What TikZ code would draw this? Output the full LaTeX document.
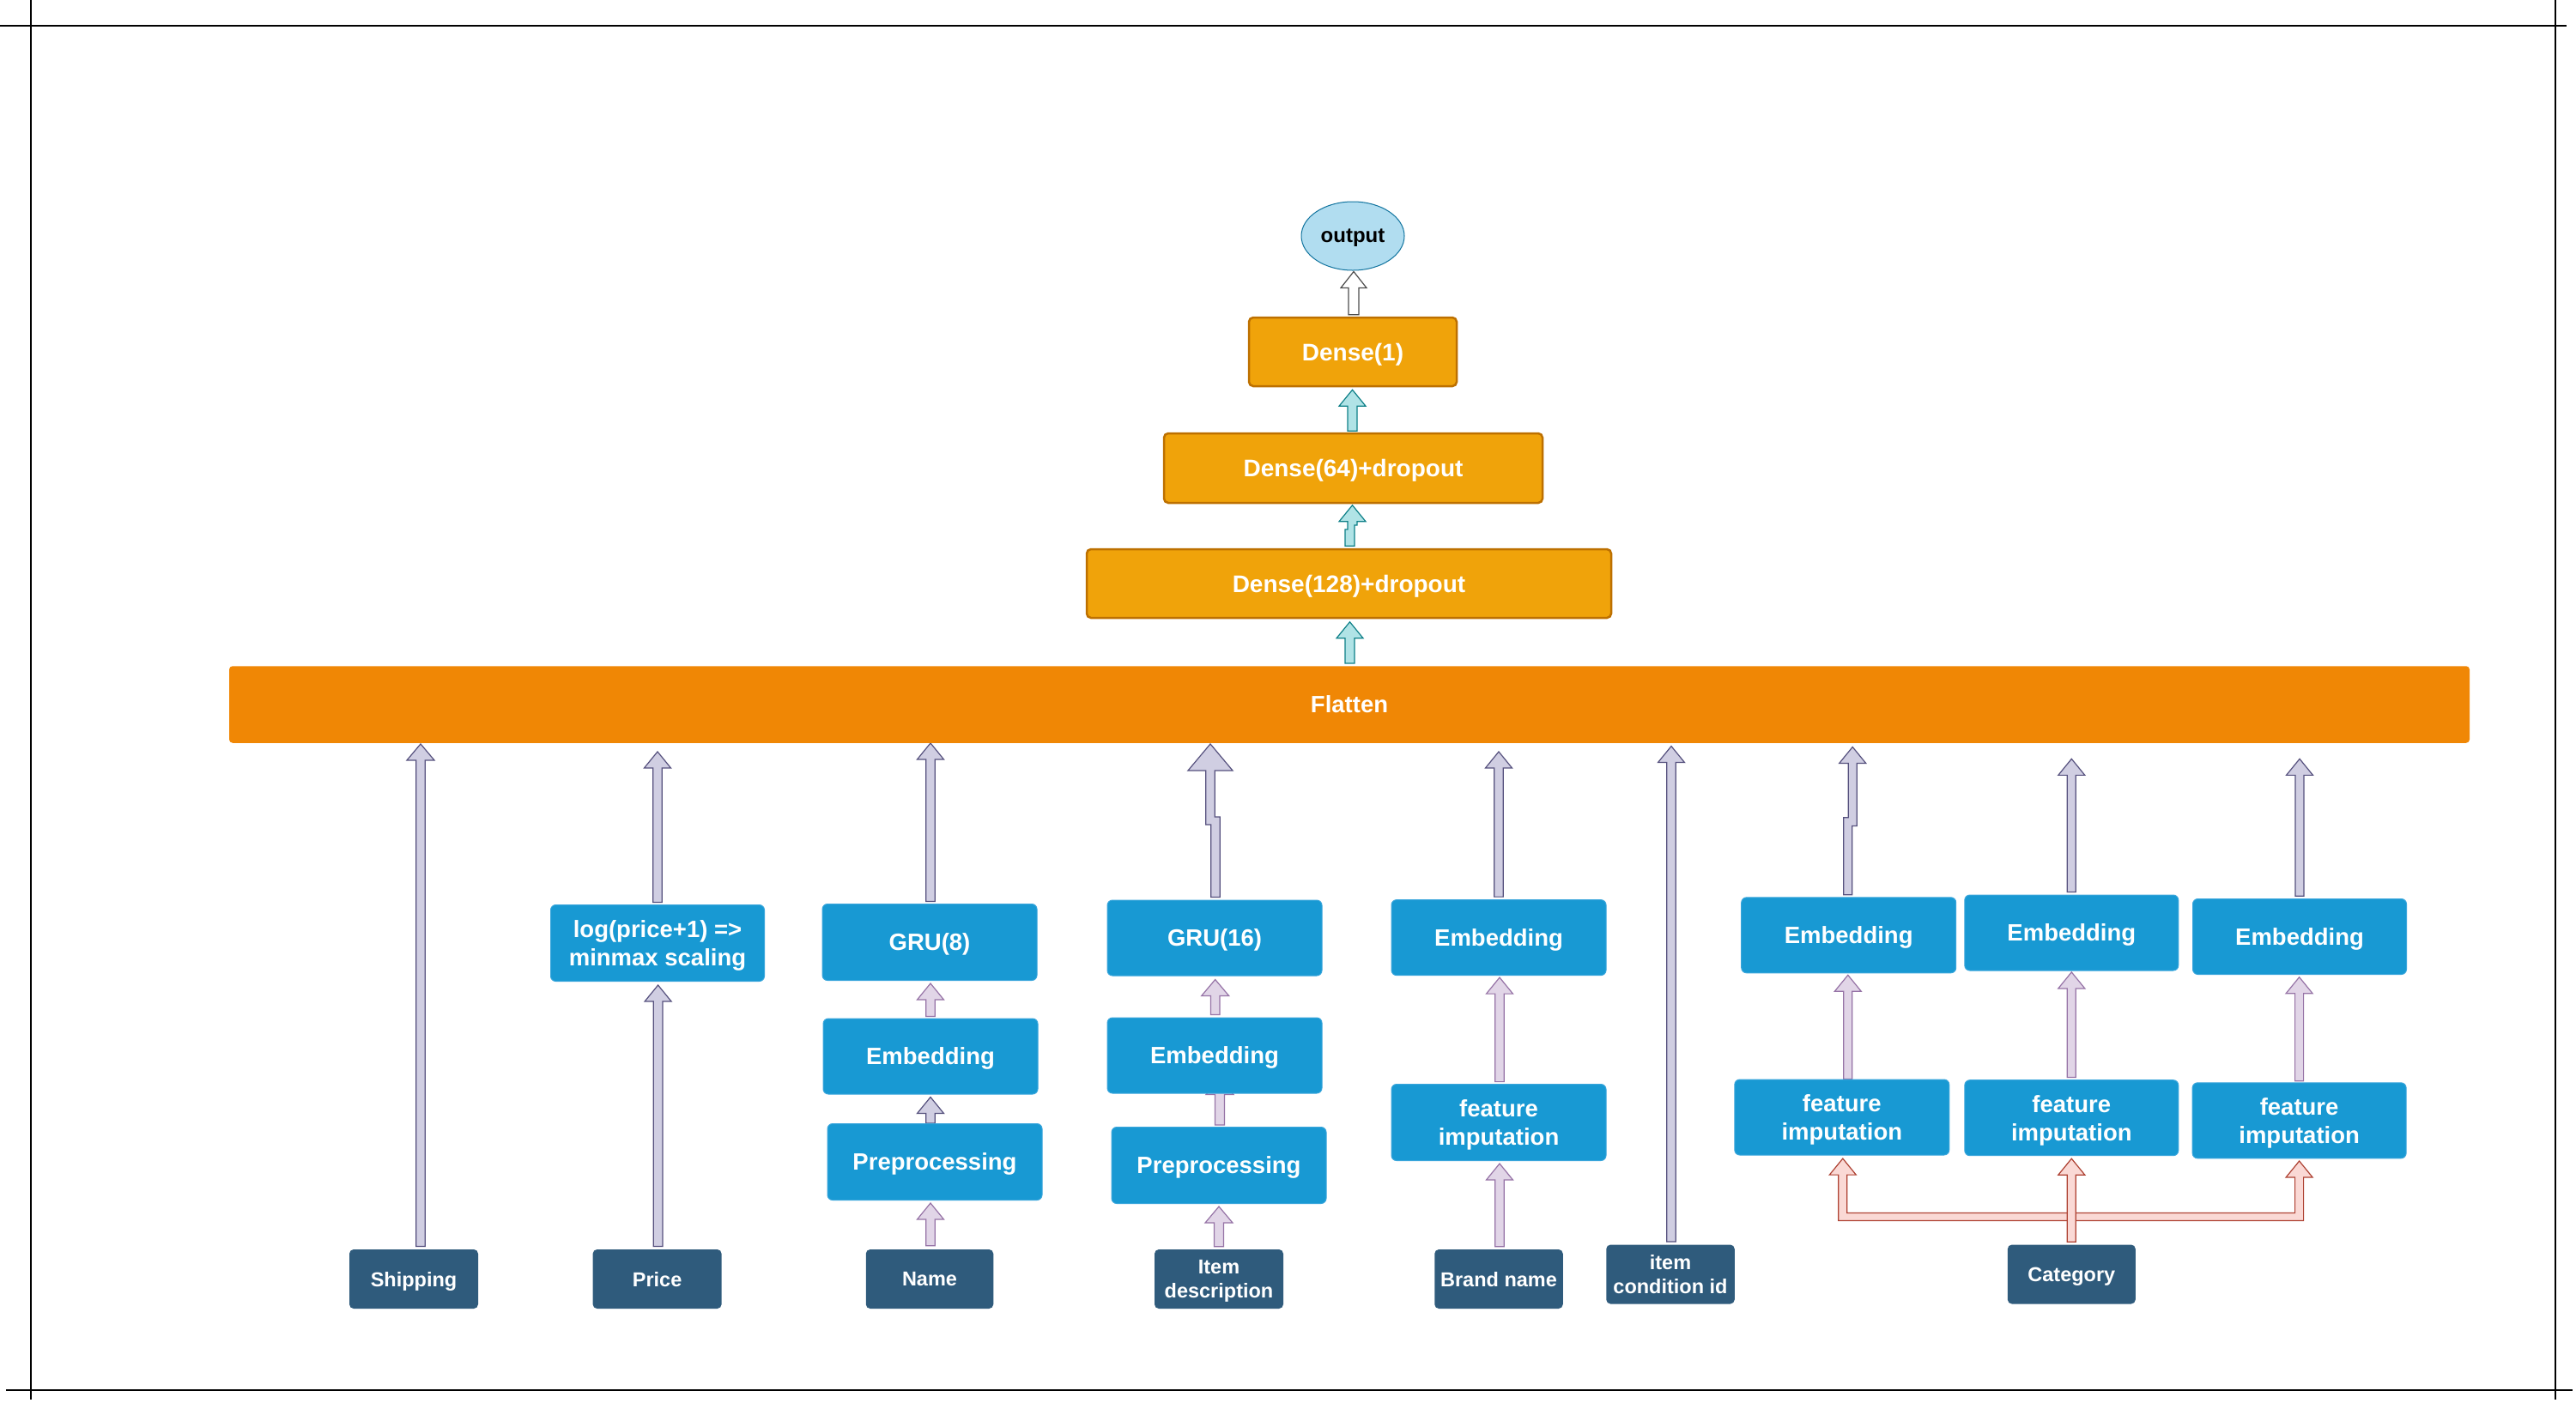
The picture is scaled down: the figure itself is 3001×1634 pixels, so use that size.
\documentclass[tikz,border=0pt]{standalone}
\usepackage{fontspec}
\setmainfont{Liberation Sans}
\usetikzlibrary{shapes.geometric,calc,backgrounds}

\definecolor{orng}{HTML}{F0A30A}
\definecolor{orngd}{HTML}{BD7000}
\definecolor{flatc}{HTML}{F08705}
\definecolor{bluebox}{HTML}{1899D3}
\definecolor{bluelt}{HTML}{3AA6DC}
\definecolor{darkbox}{HTML}{2F5B7C}
\definecolor{lavf}{HTML}{D0CEE2}
\definecolor{lavd}{HTML}{56517E}
\definecolor{pinkf}{HTML}{E1D5E7}
\definecolor{pinkd}{HTML}{9673A6}
\definecolor{tealf}{HTML}{B0E3E6}
\definecolor{teald}{HTML}{0E8088}
\definecolor{redf}{HTML}{FAD9D5}
\definecolor{redd}{HTML}{AE4132}
\definecolor{outf}{HTML}{B1DDF0}
\definecolor{outd}{HTML}{10739E}
\definecolor{grayd}{HTML}{4D4D4D}

% straight block arrow: shaft x and bottom from #2, tip y from #3
\newcommand\blkarrow[6]{%
\draw[#1] let \p1=#2, \p2=#3 in
(\x1-#4pt,\y1) -- (\x1-#4pt,\y2-#6pt) -- (\x1-#5pt,\y2-#6pt) -- (\x1,\y2) -- (\x1+#5pt,\y2-#6pt) -- (\x1+#4pt,\y2-#6pt) -- (\x1+#4pt,\y1) -- cycle;}

% block arrow with a small jog: #4 = x offset of upper shaft, #5 right-edge jog y, #6 left-edge jog y
\newcommand\jogarrow[9]{%
\draw[#1] let \p1=#2, \p2=#3, \p3=(0,#5), \p4=(0,#6) in
(\x1-#7pt,\y1) -- (\x1-#7pt,\y4) -- (\x1+#4pt-#7pt,\y4) -- (\x1+#4pt-#7pt,\y2-#9pt) -- (\x1+#4pt-#8pt,\y2-#9pt) -- (\x1+#4pt,\y2) -- (\x1+#4pt+#8pt,\y2-#9pt) -- (\x1+#4pt+#7pt,\y2-#9pt) -- (\x1+#4pt+#7pt,\y3) -- (\x1+#7pt,\y3) -- (\x1+#7pt,\y1) -- cycle;}

\tikzset{
  dbox/.style={rectangle, rounded corners=5pt, fill=darkbox, text=white,
    font=\bfseries\fontsize{23.5}{27.7}\selectfont, align=center, inner sep=0pt, text depth=0pt,
    minimum width=150pt, minimum height=69pt},
  bbox/.style={rectangle, rounded corners=6pt, fill=bluebox, draw=bluelt, line width=1pt,
    text=white, font=\bfseries\fontsize{27.5}{33}\selectfont, align=center, inner sep=0pt, text depth=0pt,
    minimum width=250pt, minimum height=88pt},
  obox/.style={rectangle, rounded corners=5pt, fill=orng, draw=orngd, line width=2.5pt,
    text=white, font=\bfseries\fontsize{28}{32}\selectfont, inner sep=0pt, text depth=0pt, minimum height=80pt},
  arlav/.style={fill=lavf, draw=lavd, line width=1.2pt},
  arpink/.style={fill=pinkf, draw=pinkd, line width=1.2pt},
  arteal/.style={fill=tealf, draw=teald, line width=1.2pt},
  arred/.style={fill=redf, draw=redd, line width=1.2pt},
  arwhite/.style={fill=white, draw=grayd, line width=1.2pt},
  cropline/.style={draw=black, line width=2pt}
}

\begin{document}
\begin{tikzpicture}[x=1pt,y=-1pt]
\useasboundingbox (0,0) rectangle (3001,1634);

% crop / frame lines
\draw[cropline] (0,30) -- (2990,30);
\draw[cropline] (7,1620) -- (2997,1620);
\draw[cropline] (36,0) -- (36,1631);
\draw[cropline] (2976.5,0) -- (2976.5,1631);

% top part
\node[ellipse, fill=outf, draw=outd, line width=1pt, minimum width=120pt, minimum height=80pt,
      inner sep=0pt, text depth=0pt, font=\bfseries\fontsize{24}{28}\selectfont] (out) at (1576,275) {output};
\node[obox, minimum width=242pt] (d1) at (1576,410) {Dense(1)};
\node[obox, minimum width=441pt, minimum height=81pt] (d64) at (1576.5,545.5) {Dense(64)+dropout};
\node[obox, minimum width=611pt] (d128) at (1571.5,680) {Dense(128)+dropout};
\node[rectangle, rounded corners=4pt, fill=flatc, minimum width=2610pt, minimum height=89.5pt,
      inner sep=0pt, text=white, font=\bfseries\fontsize{27.5}{32}\selectfont] (flat) at (1572,821) {Flatten};

% input boxes
\node[dbox] (ship) at (482,1490.5) {Shipping};
\node[dbox] (price) at (765.6,1490.5) {Price};
\node[dbox, minimum width=148.5pt] (name) at (1083,1490.5) {Name};
\node[dbox] (item) at (1420,1490.5) {Item\\description};
\node[dbox, minimum width=149.5pt] (brand) at (1746,1490.5) {Brand name};
\node[dbox, minimum width=149.5pt] (cond) at (1946,1485) {item\\condition id};
\node[dbox, minimum width=149pt] (cat) at (2413.3,1485) {Category};

% processing boxes
\node[bbox, minimum width=249pt, minimum height=89pt] (log) at (766,1099) {log(price+1) =>\\minmax scaling};
\node[bbox, minimum height=89pt] (gru8) at (1083,1098) {GRU(8)};
\node[bbox] (emb8) at (1084,1231) {Embedding};
\node[bbox, minimum height=89pt] (pre8) at (1089,1354) {Preprocessing};
\node[bbox] (gru16) at (1415,1093) {GRU(16)};
\node[bbox] (emb16) at (1415,1230) {Embedding};
\node[bbox, minimum height=89pt] (pre16) at (1420,1358) {Preprocessing};
\node[bbox] (embBr) at (1746,1092.6) {Embedding};
\node[bbox, minimum height=89pt] (fiBr) at (1746,1308) {feature\\imputation};
\node[bbox] (embA) at (2153.7,1089.8) {Embedding};
\node[bbox, minimum width=249pt] (embB) at (2413.3,1087) {Embedding};
\node[bbox, minimum width=249pt] (embC) at (2679,1091.5) {Embedding};
\node[bbox] (fiA) at (2145.8,1302) {feature\\imputation};
\node[bbox, minimum width=249pt] (fiB) at (2413.3,1302.7) {feature\\imputation};
\node[bbox, minimum width=249pt] (fiC) at (2678.6,1305.8) {feature\\imputation};

\begin{scope}[on background layer]
\fill[white] (0,0) rectangle (3001,1634);

% top chain
\blkarrow{arteal}{([xshift=0.5pt,yshift=3pt]flat.north)}{([yshift=-3.5pt]d128.south)}{5.5}{15.5}{19}
\jogarrow{arteal}{([xshift=1pt,yshift=2.5pt]d128.north)}{([yshift=-1.5pt]d64.south)}{3}{612}{617}{5.5}{15.5}{19}
\blkarrow{arteal}{([xshift=-1pt,yshift=1.5pt]d64.north)}{([yshift=-3pt]d1.south)}{5.5}{15.5}{19}
\blkarrow{arwhite}{([xshift=1pt,yshift=2pt]d1.north)}{([yshift=-1pt]out.south)}{6}{15}{19}

% shipping
\blkarrow{arlav}{([xshift=8pt,yshift=3.3pt]ship.north)}{([yshift=-1pt]flat.south)}{5.3}{16}{19}
% price
\blkarrow{arlav}{([xshift=1pt,yshift=3.3pt]price.north)}{([yshift=-4pt]log.south)}{5.3}{15.5}{19}
\blkarrow{arlav}{([yshift=2.5pt]log.north)}{([yshift=-10pt]flat.south)}{5.3}{15.5}{19}
% name
\blkarrow{arpink}{([xshift=1pt,yshift=4pt]name.north)}{([yshift=-3pt]pre8.south)}{5.3}{15.5}{19}
\blkarrow{arlav}{([xshift=-5pt]pre8.north)}{([yshift=-3pt]emb8.south)}{5.3}{15.5}{19}
\blkarrow{arpink}{([yshift=2pt]emb8.north)}{([yshift=-3pt]gru8.south)}{5.3}{15.5}{19}
\blkarrow{arlav}{([xshift=1pt,yshift=2.6pt]gru8.north)}{(flat.south)}{5.3}{15.5}{19}
% item description
\blkarrow{arpink}{([yshift=3pt]item.north)}{([yshift=-3pt]pre16.south)}{5.5}{16}{19}
\blkarrow{arpink}{([xshift=1pt,yshift=2pt]pre16.north)}{([yshift=18pt]emb16.south)}{5.5}{16}{19}
\blkarrow{arpink}{([xshift=0.7pt,yshift=3pt]emb16.north)}{([yshift=-4pt]gru16.south)}{5.3}{16}{19}
\jogarrow{arlav}{([xshift=1pt,yshift=3pt]gru16.north)}{([yshift=-1pt]flat.south)}{-6}{952}{961}{5.2}{26}{31}
% brand name
\blkarrow{arpink}{([xshift=1pt,yshift=3pt]brand.north)}{([yshift=-3pt]fiBr.south)}{5.3}{15.5}{19}
\blkarrow{arpink}{([xshift=1pt,yshift=2.4pt]fiBr.north)}{([yshift=-2pt]embBr.south)}{5.3}{15.5}{19}
\blkarrow{arlav}{([yshift=3pt]embBr.north)}{([yshift=-10pt]flat.south)}{5.3}{15.5}{19}
% item condition id
\blkarrow{arlav}{([xshift=1pt,yshift=3.4pt]cond.north)}{([yshift=-3.6pt]flat.south)}{5.3}{15.5}{19}
% category branches
\jogarrow{arlav}{([xshift=-1pt,yshift=2.6pt]embA.north)}{([yshift=-4.5pt]flat.south)}{5.5}{962.5}{952.7}{5}{15.5}{19}
\blkarrow{arpink}{([xshift=7pt]fiA.north)}{([yshift=-2pt]embA.south)}{5}{15.5}{19}
\blkarrow{arlav}{([yshift=3pt]embB.north)}{([yshift=-18.4pt]flat.south)}{5}{15.5}{19}
\blkarrow{arpink}{([yshift=2.7pt]fiB.north)}{([yshift=-1.4pt]embB.south)}{5}{15.5}{19}
\blkarrow{arlav}{([yshift=2.7pt]embC.north)}{([yshift=-18.4pt]flat.south)}{5}{15.5}{19}
\blkarrow{arpink}{([yshift=1.6pt]fiC.north)}{([yshift=-2.7pt]embC.south)}{5}{15.5}{19}

% category fan-out
\draw[arred] let \p1=([xshift=1pt,yshift=-3.6pt]fiA.south), \p2=([yshift=-2.7pt]fiC.south), \p3=(0,1418) in
  (\x1-5pt,\y3-4.5pt) -- (\x1-5pt,\y1-19pt) -- (\x1-15.5pt,\y1-19pt) -- (\x1,\y1) -- (\x1+15.5pt,\y1-19pt)
  -- (\x1+5pt,\y1-19pt) -- (\x1+5pt,\y3+4.5pt) -- (\x2-5pt,\y3+4.5pt) -- (\x2-5pt,\y2-19pt)
  -- (\x2-15.5pt,\y2-19pt) -- (\x2,\y2) -- (\x2+15.5pt,\y2-19pt) -- (\x2+5pt,\y2-19pt)
  -- (\x2+5pt,\y3-4.5pt) -- cycle;
\blkarrow{arred}{([yshift=3pt]cat.north)}{([yshift=-3pt]fiB.south)}{5}{15.5}{19}
\end{scope}
\end{tikzpicture}
\end{document}
